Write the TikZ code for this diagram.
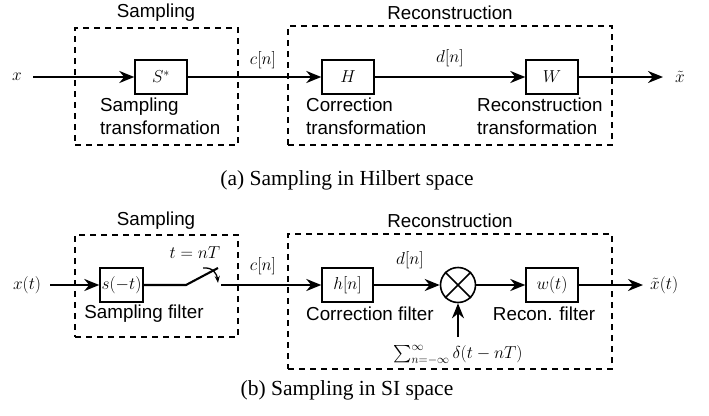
\documentclass[tikz,border=0pt]{standalone}
\usepackage{amsmath}
\usepackage{fontspec}
\setmainfont{Liberation Serif}
\setsansfont{Liberation Sans}
\usetikzlibrary{arrows.meta}
\tikzset{
  lbl/.style={font=\sffamily\fontsize{18.8}{23}\selectfont, inner sep=0pt},
  mlbl/.style={font=\fontsize{18}{21}\selectfont, inner sep=0pt},
  captxt/.style={font=\rmfamily\fontsize{21.5}{24}\selectfont, inner sep=0pt},
  blk/.style={draw, line width=1.4pt, minimum height=34pt, inner sep=0pt, font=\fontsize{18}{21}\selectfont},
  dashbox/.style={draw, dashed, line width=1.4pt, dash pattern=on 6pt off 5pt, inner sep=0pt},
  sig/.style={line width=2.1pt, -{Stealth[length=15pt,width=12pt]}},
  wire/.style={line width=2.1pt},
}
\begin{document}
\begin{tikzpicture}[x=1pt,y=-1pt]
\useasboundingbox (0,0) rectangle (709,415);
% ---------- (a) ----------
\node[dashbox, minimum width=163pt, minimum height=117pt] (sampA) at (156.5,86.5) {};
\node[dashbox, minimum width=324pt, minimum height=119pt] (recA) at (450,85.5) {};
\node[lbl] (sampAl) at (156,13) {Sampling};
\node[lbl] (recAl) at (450,13) {Reconstruction};
\node[mlbl] (xin) at (17,77) {$x$};
\coordinate (xstart) at (33,77);
\node[blk, minimum width=52pt] (S) at (161,77) {$S^*$};
\node[blk, minimum width=52pt] (H) at (348,77) {$H$};
\node[blk, minimum width=52pt] (W) at (552,77) {$W$};
\coordinate (xend) at (663,77);
\node[mlbl] (xout) at (680,77) {$\tilde{x}$};
\draw[sig] (xstart) -- (S);
\draw[sig] (S) -- (H);
\draw[sig] (H) -- (W);
\draw[sig] (W) -- (xend);
\node[mlbl] (cA) at (263,60) {$c[n]$};
\node[mlbl] (dA) at (450,58) {$d[n]$};
\node[lbl, anchor=west, align=left] (St) at (100,116.5) {Sampling\\transformation};
\node[lbl, anchor=west, align=left] (Ht) at (306,116.5) {Correction\\transformation};
\node[lbl, anchor=west, align=left] (Wt) at (477,116.5) {Reconstruction\\transformation};
\node[captxt] (capA) at (347,180) {(a) Sampling in Hilbert space};
% ---------- (b) ----------
\node[dashbox, minimum width=163pt, minimum height=102pt] (sampB) at (156.5,286) {};
\node[dashbox, minimum width=324pt, minimum height=135pt] (recB) at (450,301.5) {};
\node[lbl] (sampBl) at (156,221) {Sampling};
\node[lbl] (recBl) at (450,221) {Reconstruction};
\node[mlbl] (xtin) at (27,285) {$x(t)$};
\coordinate (xtstart) at (50,285);
\node[blk, minimum width=43pt] (s) at (121.5,285) {$s(-t)$};
\coordinate (sw1) at (186,285);
\coordinate (sw2) at (218,268);
\coordinate (sw3) at (221,285);
\node[blk, minimum width=51pt] (h) at (347.5,285) {$h[n]$};
\node[draw, circle, line width=1.6pt, minimum size=35pt, inner sep=0pt] (mul) at (458,285) {};
\draw[line width=1.6pt] (mul.north west) -- (mul.south east) (mul.north east) -- (mul.south west);
\node[blk, minimum width=52pt] (w) at (552,285) {$w(t)$};
\coordinate (xtend) at (643,285);
\node[mlbl, anchor=west] (xtout) at (650,285) {$\tilde{x}(t)$};
\coordinate (imp) at (458,337);
\draw[sig] (xtstart) -- (s);
\draw[wire] (s) -- (sw1) -- (sw2);
\draw[line width=1.3pt, -{Stealth[length=7pt,width=5pt]}] (203,268) .. controls (213,267) and (217,274) .. (218,283);
\draw[sig] (sw3) -- (h);
\draw[sig] (h) -- (mul);
\draw[sig] (mul) -- (w);
\draw[sig] (w) -- (xtend);
\draw[sig] (imp) -- (mul);
\node[mlbl] (tnT) at (195,253) {$t=nT$};
\node[mlbl] (cB) at (263,266) {$c[n]$};
\node[mlbl] (dB) at (410,260) {$d[n]$};
\node[mlbl] (sum) at (458,355) {$\textstyle\sum_{n=-\infty}^{\infty}\delta(t-nT)$};
\node[lbl] (sf) at (144,314) {Sampling filter};
\node[lbl, anchor=west] (cf) at (306,314) {Correction filter};
\node[lbl] (rf) at (544,314) {Recon. filter};
\node[captxt] (capB) at (347,390) {(b) Sampling in SI space};
\end{tikzpicture}
\end{document}
